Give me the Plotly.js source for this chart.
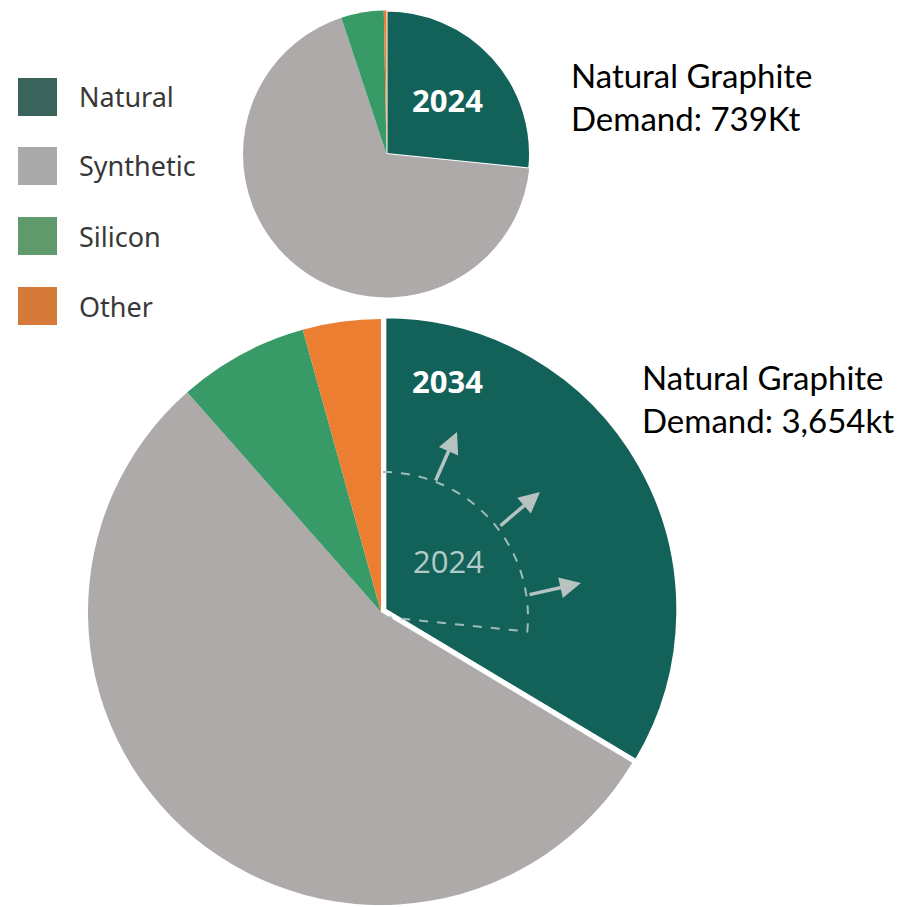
<!DOCTYPE html>
<html><head><meta charset="utf-8">
<script src="https://cdn.plot.ly/plotly-3.0.1.min.js"></script>
<style>html,body{margin:0;padding:0;overflow:hidden;background:#fff}#chart{width:904px;height:930px}</style>
</head><body><div id="chart"></div>
<script>
// ---- data ----
const categories = ['Natural', 'Synthetic', 'Silicon', 'Other'];
const share2024 = [26.6, 68.3, 4.8, 0.3];
const share2034 = [33.6, 54.9, 7.2, 4.3];
const yearLabels = ['2024', '2034'];
const demandText2024 = ['Natural Graphite', 'Demand: 739Kt'];
const demandText2034 = ['Natural Graphite', 'Demand: 3,654kt'];

// ---- styles ----
const sliceColors = ['#12625a', '#afaaaa', '#389a67', '#eb7e30'];
const legendColors = ['#3a635b', '#aaaaaa', '#5e9a6b', '#d67a3a'];
const W = 904, H = 930;
const px = x => x / W;
const py = y => 1 - y / H;

// pie geometry (pixels)
const small = {cx: 386.5, cy: 154, r: 143.5};
const big = {cx: 381, cy: 612, r: 293, pull: 0.015};
const bigHalf = big.r * (1 + big.pull);

const traces = [
  {
    type: 'pie', labels: categories, values: share2024, sort: false,
    direction: 'clockwise', rotation: 0, textinfo: 'none', showlegend: false,
    hoverinfo: 'label+percent',
    marker: {colors: sliceColors, line: {color: '#ffffff', width: [2, 0, 0, 0]}},
    domain: {x: [px(small.cx - small.r), px(small.cx + small.r)],
             y: [py(small.cy + small.r), py(small.cy - small.r)]}
  },
  {
    type: 'pie', labels: categories, values: share2034, sort: false,
    direction: 'clockwise', rotation: 0, textinfo: 'none', showlegend: false,
    hoverinfo: 'label+percent', pull: [big.pull, 0, 0, 0],
    marker: {colors: sliceColors, line: {color: '#ffffff', width: [3, 0, 0, 0]}},
    domain: {x: [px(big.cx - bigHalf), px(big.cx + bigHalf)],
             y: [py(big.cy + bigHalf), py(big.cy - bigHalf)]}
  }
];

const shapes = [];
const annotations = [];

// legend
const legendY = [97, 166, 236, 306];
categories.forEach((c, i) => {
  shapes.push({type: 'rect', xref: 'paper', yref: 'paper',
    x0: px(18), x1: px(57), y0: py(legendY[i] + 19), y1: py(legendY[i] - 19),
    fillcolor: legendColors[i], line: {width: 0}});
  annotations.push({xref: 'paper', yref: 'paper', x: px(77), y: py(legendY[i]),
    xanchor: 'left', yanchor: 'middle', showarrow: false, text: c,
    font: {family: 'Noto Sans', size: 27, color: '#383838'}});
});

// dashed wedge showing the 2024 natural slice inside the 2034 one
const wedge = {cx: 383, cy: 617, r: 145};
const theta = share2024[0] / 100 * 2 * Math.PI;
let path = '';
const N = 40;
for (let k = 0; k <= N; k++) {
  const a = theta * k / N;
  const x = wedge.cx + wedge.r * Math.sin(a);
  const y = wedge.cy - wedge.r * Math.cos(a);
  path += (k === 0 ? 'M' : 'L') + px(x).toFixed(5) + ',' + py(y).toFixed(5) + ' ';
}
path += 'L' + px(wedge.cx + 2).toFixed(5) + ',' + py(wedge.cy).toFixed(5);
shapes.push({type: 'path', xref: 'paper', yref: 'paper', path: path,
  line: {color: '#9fbdb8', width: 2, dash: 'dash'}});

// growth arrows
const arrows = [
  [[435, 482], [457, 432]],
  [[499, 527], [540, 492]],
  [[528, 595], [581, 583]]
];
arrows.forEach(([t, h]) => {
  annotations.push({xref: 'paper', yref: 'paper', x: px(h[0]), y: py(h[1]),
    ax: t[0] - h[0], ay: t[1] - h[1], text: '', showarrow: true,
    arrowhead: 2, arrowsize: 1.2, arrowwidth: 3.5, arrowcolor: '#b7c3c1', standoff: 0});
});

// year labels
const yearAnn = (x, y, text, color) => ({xref: 'paper', yref: 'paper', x: px(x), y: py(y),
  xanchor: 'center', yanchor: 'middle', text: text, showarrow: false,
  font: {family: 'Open Sans', size: 31, color: color}});
annotations.push(yearAnn(447, 100, '<b>' + yearLabels[0] + '</b>', '#ffffff'));
annotations.push(yearAnn(447, 381, '<b>' + yearLabels[1] + '</b>', '#ffffff'));
annotations.push(yearAnn(448, 561, yearLabels[0], '#b3cbc6'));

// demand texts
const demandFont = {family: 'Lato', size: 33, color: '#000000'};
[[demandText2024, 569, 96], [demandText2034, 640, 399]].forEach(([lines, x, yc]) => {
  annotations.push({xref: 'paper', yref: 'paper', x: px(x), y: py(yc), xanchor: 'left', yanchor: 'middle',
    align: 'left', text: lines.join('<br>'), showarrow: false, font: demandFont});
});

const layout = {
  width: W, height: H, margin: {l: 0, r: 0, t: 0, b: 0},
  paper_bgcolor: '#ffffff', plot_bgcolor: '#ffffff',
  showlegend: false, shapes: shapes, annotations: annotations
};
Plotly.newPlot('chart', traces, layout, {displayModeBar: false, staticPlot: true});
</script>
</body></html>
